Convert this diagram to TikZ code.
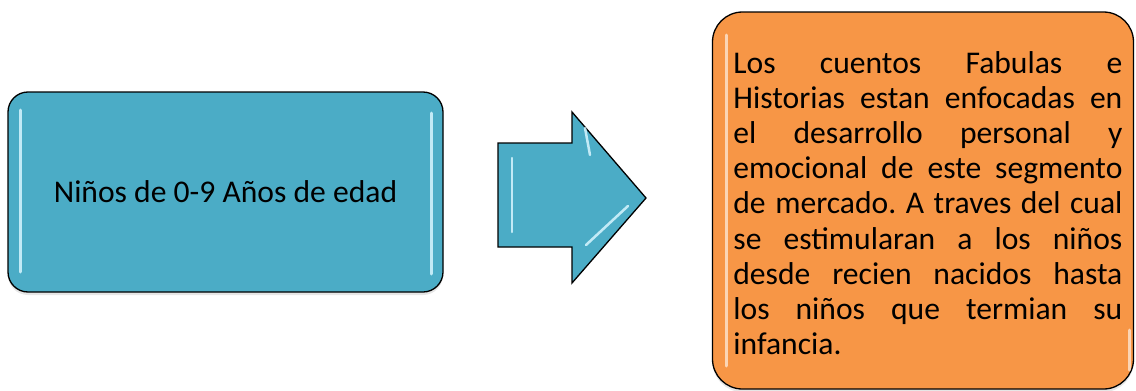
\documentclass[tikz,border=0pt]{standalone}
\usepackage{fontspec}
\setmainfont{Carlito}
\usepackage{xcolor}
\usepackage{tikz}
\usetikzlibrary{positioning,calc,shadows}

\definecolor{boxblue}{HTML}{4BACC6}
\definecolor{boxorange}{HTML}{F79646}
\definecolor{shine}{HTML}{D8F6FF}

\tikzset{
  glossbox/.style={draw=black, line width=1.3pt, rounded corners=20pt,
    drop shadow={opacity=0.2, shadow xshift=0pt, shadow yshift=-3pt}},
  shineline/.style={draw=shine, line width=3pt, line cap=round, opacity=0.85},
  bodytext/.style={font=\fontsize{31.6}{35.2}\selectfont}
}

\begin{document}
\begin{tikzpicture}[x=1pt, y=-1pt, thick]
    \useasboundingbox (0,0) rectangle (1136,391);

    % left box
    \node[glossbox, fill=boxblue, minimum width=435pt, minimum height=200pt,
          bodytext] (age) at (225.5,192) {Niños de 0-9 Años de edad};
    \draw[shineline] (20,110) -- (20,272);
    \draw[shineline] (431,113) -- (431,274);

    % block arrow
    \coordinate (tail) at (498,195);
    \coordinate (tip) at (646,198);
    \draw[fill=boxblue, line width=1.3pt, line join=miter]
        (498,143) -- (572,143) -- (572,112) -- (tip) -- (572,283)
        -- (572,247) -- (498,247) -- cycle;
    \draw[shineline, line width=2.5pt] (512,158) -- (512,232);
    \draw[shineline, line width=2.5pt] (585,128) -- (590,155);
    \draw[shineline, line width=2.5pt] (586,245) -- (628,206);

    % right box
    \node[glossbox, fill=boxorange, rounded corners=30pt,
          minimum width=421pt, minimum height=377pt] (story) at (923,200.5) {};
    \node[bodytext, text width=389pt, align=justify, inner sep=0pt,
          anchor=north west] (storytext) at (733,50.8) {%
      \hyphenpenalty=10000\emergencystretch=20pt\frenchspacing
      Los cuentos Fabulas e\linebreak
      Historias estan enfocadas en\linebreak
      el desarrollo personal y\linebreak
      emocional de este segmento\linebreak
      de mercado. A traves del cual\linebreak
      se estimularan a los niños\linebreak
      desde recien nacidos hasta\linebreak
      los niños que termian su\linebreak
      infancia.};
    \draw[shineline, draw=white, opacity=0.6] (726,35) -- (726,366);
    \draw[shineline, draw=white, opacity=0.6] (1129,330) -- (1129,370);
\end{tikzpicture}
\end{document}
